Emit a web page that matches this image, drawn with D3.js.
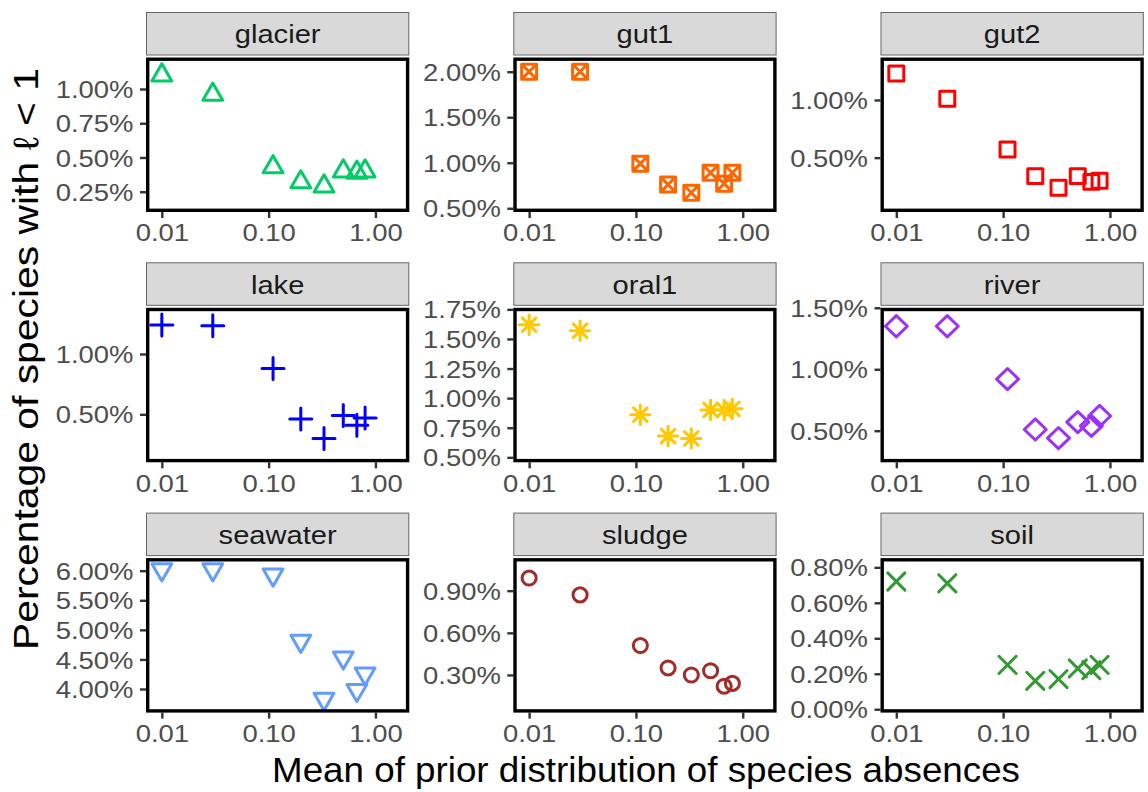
<!DOCTYPE html>
<html>
<head>
<meta charset="utf-8">
<script src="https://cdn.jsdelivr.net/npm/d3@7"></script>
<style>
  body { margin: 0; background: #fff; }
  text { font-family: "Liberation Sans", Arial, sans-serif; }
</style>
</head>
<body>
<div id="c1"></div>
<script>
// Data
var panelNames = ["glacier", "gut1", "gut2", "lake", "oral1", "river", "seawater", "sludge", "soil"];
var priorMeans = [0.01, 0.03, 0.11, 0.2, 0.33, 0.5, 0.67, 0.8];
var xTicks = [0.01, 0.10, 1.00];

// percentage of species with l < 1, per environment
var glacier  = [1.10, 0.96, 0.43, 0.32, 0.29, 0.40, 0.39, 0.40];
var gut1     = [2.00, 2.00, 0.99, 0.76, 0.67, 0.89, 0.77, 0.89];
var gut2     = [1.23, 1.01, 0.57, 0.34, 0.24, 0.34, 0.29, 0.30];
var lake     = [1.24, 1.235, 0.88, 0.46, 0.30, 0.49, 0.41, 0.47];
var oral1    = [1.62, 1.57, 0.86, 0.68, 0.66, 0.90, 0.90, 0.91];
var river    = [1.35, 1.35, 0.92, 0.51, 0.44, 0.57, 0.54, 0.62];
var seawater = [6.02, 6.02, 5.93, 4.81, 3.83, 4.53, 3.98, 4.26];
var sludge   = [0.99, 0.87, 0.51, 0.35, 0.30, 0.33, 0.22, 0.24];
var soil     = [0.72, 0.71, 0.25, 0.16, 0.17, 0.23, 0.22, 0.25];
var series = [glacier, gut1, gut2, lake, oral1, river, seawater, sludge, soil];

// free y scales: limits and breaks of each panel
var yLimits = [[0.102, 1.230], [0.459, 2.156], [0.029, 1.368],
               [0.102, 1.383], [0.458, 1.763], [0.243, 1.500],
               [3.601, 6.213], [0.032, 1.132], [-0.019, 0.852]];
var yBreaks = [[0.25, 0.50, 0.75, 1.00], [0.50, 1.00, 1.50, 2.00], [0.50, 1.00],
               [0.50, 1.00], [0.50, 0.75, 1.00, 1.25, 1.50, 1.75], [0.50, 1.00, 1.50],
               [4.00, 4.50, 5.00, 5.50, 6.00], [0.30, 0.60, 0.90], [0.00, 0.20, 0.40, 0.60, 0.80]];

var colours = ["#00CD66", "#FF6600", "#FF0000", "#0000FF", "#FFC800",
               "#9B30FF", "#619CFF", "#A52A2A", "#339933"];
var shapes = ["triangle", "squarecross", "square", "plus", "asterisk",
              "diamond", "triangledown", "circle", "cross"];

// Layout
var w = 1148, h = 792;
var colX = [146, 513.3, 880.5], panelW = 263.3;
var rowY = [12, 262.3, 512.6], stripH = 43.5, panelGap = 2, panelH = 154.5;
var sx = 1.12; // horizontal stretch of the small text
var k = 1.1;   // symbol scale

function shapePath(type) {
    var p = d3.path();
    if (type == "triangle") {
        p.moveTo(0, -10.4 * k); p.lineTo(9.0 * k, 5.2 * k); p.lineTo(-9.0 * k, 5.2 * k); p.closePath();
    } else if (type == "triangledown") {
        p.moveTo(0, 10.4 * k); p.lineTo(9.0 * k, -5.2 * k); p.lineTo(-9.0 * k, -5.2 * k); p.closePath();
    } else if (type == "square" || type == "squarecross") {
        var s = 6.8 * k;
        p.rect(-s, -s, 2 * s, 2 * s);
        if (type == "squarecross") {
            p.moveTo(-s, -s); p.lineTo(s, s);
            p.moveTo(-s, s); p.lineTo(s, -s);
        }
    } else if (type == "plus") {
        var c = 10 * k;
        p.moveTo(-c, 0); p.lineTo(c, 0);
        p.moveTo(0, -c); p.lineTo(0, c);
    } else if (type == "asterisk") {
        var a = 8.8 * k, b = 6.2 * k;
        p.moveTo(-a, 0); p.lineTo(a, 0);
        p.moveTo(0, -a); p.lineTo(0, a);
        p.moveTo(-b, -b); p.lineTo(b, b);
        p.moveTo(-b, b); p.lineTo(b, -b);
    } else if (type == "diamond") {
        p.moveTo(0, -9.6 * k); p.lineTo(10 * k, 0); p.lineTo(0, 9.6 * k); p.lineTo(-10 * k, 0); p.closePath();
    } else if (type == "circle") {
        p.arc(0, 0, 6.4 * k, 0, 2 * Math.PI);
    } else if (type == "cross") {
        var e = 7.8 * k;
        p.moveTo(-e, -e); p.lineTo(e, e);
        p.moveTo(-e, e); p.lineTo(e, -e);
    }
    return p.toString();
}

var svg = d3.select("#c1").append("svg")
    .attr("width", w)
    .attr("height", h);

svg.append("rect").attr("width", w).attr("height", h).attr("fill", "#fff");

var fmtPct = function (d) { return d.toFixed(2) + "%"; };
var fmtX = function (d) { return d.toFixed(2); };

panelNames.forEach(function (name, i) {
    var col = i % 3, row = Math.floor(i / 3);
    var x0 = colX[col], x1 = x0 + panelW;
    var sTop = rowY[row];
    var y0 = sTop + stripH + panelGap, y1 = y0 + panelH;

    var x = d3.scaleLog().domain([0.00711, 2.075]).range([x0, x1]);
    var y = d3.scaleLinear().domain(yLimits[i]).range([y1, y0]);

    var g = svg.append("g");

    // strip
    g.append("rect")
        .attr("x", x0 + 0.5).attr("y", sTop + 0.5)
        .attr("width", panelW - 1).attr("height", stripH - 1)
        .attr("fill", "#D9D9D9").attr("stroke", "#666").attr("stroke-width", 1);
    g.append("text")
        .attr("x", (x0 + x1) / 2).attr("y", sTop + stripH / 2 + 9.5)
        .attr("text-anchor", "middle")
        .attr("font-size", 26)
        .attr("fill", "#1A1A1A")
        .attr("transform", "translate(" + ((x0 + x1) / 2) * (1 - sx) + ",0) scale(" + sx + ",1)")
        .text(name);

    // axes
    var ya = g.append("g")
        .attr("transform", "translate(" + x0 + ",0)")
        .call(d3.axisLeft(y).tickValues(yBreaks[i]).tickFormat(fmtPct).tickSize(6).tickSizeOuter(0));
    var xa = g.append("g")
        .attr("transform", "translate(0," + y1 + ")")
        .call(d3.axisBottom(x).tickValues(xTicks).tickFormat(fmtX).tickSize(6).tickSizeOuter(0));

    [ya, xa].forEach(function (ax) {
        ax.select(".domain").remove();
        ax.selectAll("line").attr("stroke", "#333").attr("stroke-width", 2.4);
        ax.selectAll("text")
            .attr("font-size", 24.5)
            .attr("fill", "#4D4D4D")
            .attr("font-family", "Liberation Sans, Arial, sans-serif")
            .attr("transform", "scale(" + sx + ",1)");
    });
    ya.selectAll("text").attr("x", -12.5 / sx).attr("dy", "0.35em");
    xa.selectAll("text").attr("y", 29.5).attr("dy", 0);

    // points
    g.selectAll("path.pt")
        .data(series[i])
        .enter()
        .append("path")
        .attr("class", "pt")
        .attr("transform", function (d, j) {
            return "translate(" + x(priorMeans[j]) + "," + y(d) + ")";
        })
        .attr("d", shapePath(shapes[i]))
        .attr("fill", "none")
        .attr("stroke", colours[i])
        .attr("stroke-width", 3)
        .attr("stroke-linejoin", "round")
        .attr("stroke-linecap", "round");

    // panel border
    g.append("rect")
        .attr("x", x0 + 1.7).attr("y", y0 + 1.7)
        .attr("width", panelW - 3.4).attr("height", panelH - 3.4)
        .attr("fill", "none").attr("stroke", "#000").attr("stroke-width", 3.4);
});

// axis titles
svg.append("text")
    .attr("x", 646).attr("y", 782)
    .attr("text-anchor", "middle")
    .attr("font-size", 35)
    .attr("fill", "#000")
    .attr("textLength", 748).attr("lengthAdjust", "spacingAndGlyphs")
    .text("Mean of prior distribution of species absences");

svg.append("text")
    .attr("transform", "translate(38,359) rotate(-90)")
    .attr("text-anchor", "middle")
    .attr("font-size", 35)
    .attr("fill", "#000")
    .attr("textLength", 582).attr("lengthAdjust", "spacingAndGlyphs")
    .text("Percentage of species with \u2113 < 1");
</script>
</body>
</html>
